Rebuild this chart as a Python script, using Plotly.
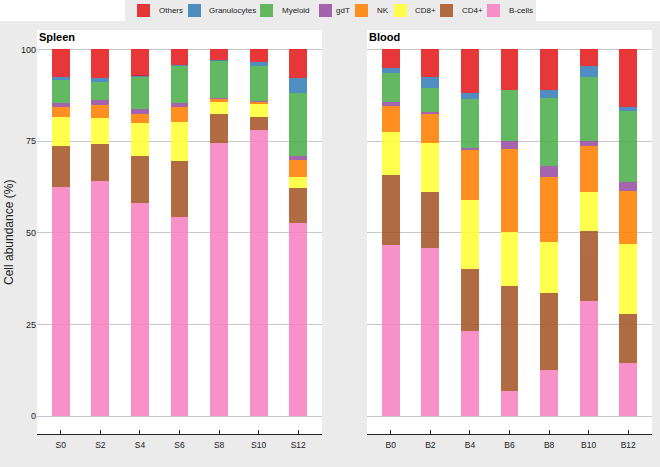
import plotly.graph_objects as go

W, H = 660, 467

# ---------------- data ----------------
spleen_samples = ["S0", "S2", "S4", "S6", "S8", "S10", "S12"]
blood_samples = ["B0", "B2", "B4", "B6", "B8", "B10", "B12"]

# stacking order bottom -> top
cell_types = ["B-cells", "CD4+", "CD8+", "NK", "gdT", "Myeloid", "Granulocytes", "Others"]
legend_order = ["Others", "Granulocytes", "Myeloid", "gdT", "NK", "CD8+", "CD4+", "B-cells"]

spleen_bcells = [62.5, 64.2, 58.1, 54.3, 74.5, 78.1, 52.6]
spleen_cd4 = [11.1, 9.9, 12.7, 15.2, 8.0, 3.4, 9.7]
spleen_cd8 = [8.0, 7.3, 9.1, 10.6, 3.2, 3.8, 3.0]
spleen_nk = [2.8, 3.4, 2.6, 4.2, 0.8, 0.4, 4.5]
spleen_gdt = [1.1, 1.4, 1.2, 1.0, 0.2, 0.2, 1.0]
spleen_myeloid = [6.1, 5.0, 8.8, 10.2, 10.3, 9.6, 17.3]
spleen_gran = [0.8, 1.0, 0.3, 0.2, 0.1, 1.0, 4.1]
spleen_others = [7.6, 7.8, 7.2, 4.3, 2.9, 3.5, 7.8]

blood_bcells = [46.6, 45.8, 23.3, 6.9, 12.6, 31.4, 14.4]
blood_cd4 = [19.1, 15.2, 16.7, 28.6, 20.9, 19.1, 13.4]
blood_cd8 = [11.9, 13.5, 18.9, 14.6, 14.0, 10.7, 19.1]
blood_nk = [6.9, 8.0, 13.6, 22.7, 17.7, 12.4, 14.6]
blood_gdt = [1.1, 0.5, 0.6, 2.3, 3.0, 1.4, 2.4]
blood_myeloid = [7.9, 6.5, 13.4, 13.9, 18.5, 17.5, 19.3]
blood_gran = [1.4, 3.0, 1.7, 0.0, 2.1, 3.0, 1.2]
blood_others = [5.1, 7.5, 11.8, 11.0, 11.2, 4.5, 15.6]

y_ticks = [0, 25, 50, 75, 100]

spleen = dict(zip(cell_types, [spleen_bcells, spleen_cd4, spleen_cd8, spleen_nk,
                               spleen_gdt, spleen_myeloid, spleen_gran, spleen_others]))
blood = dict(zip(cell_types, [blood_bcells, blood_cd4, blood_cd8, blood_nk,
                              blood_gdt, blood_myeloid, blood_gran, blood_others]))

# ---------------- style ----------------
colors = {
    "Others": "#e41a1c",
    "Granulocytes": "#377eb8",
    "Myeloid": "#4daf4a",
    "gdT": "#984ea3",
    "NK": "#ff7f00",
    "CD8+": "#ffff33",
    "CD4+": "#a65628",
    "B-cells": "#f781bf",
}
OPAC = 0.87
FONT = "Liberation Sans, Arial, Helvetica, sans-serif"
BG = "#ebebeb"

def px_x(p):
    return p / W

def px_y(p):
    return 1 - p / H

fig = go.Figure()
for ct in cell_types:
    fig.add_trace(go.Bar(x=spleen_samples, y=spleen[ct], name=ct, marker_color=colors[ct],
                         marker_line_width=0, opacity=OPAC, showlegend=False,
                         xaxis="x", yaxis="y"))
    fig.add_trace(go.Bar(x=blood_samples, y=blood[ct], name=ct, marker_color=colors[ct],
                         marker_line_width=0, opacity=OPAC, showlegend=False,
                         xaxis="x2", yaxis="y2"))

y_dom = [px_y(434), px_y(30)]
y_rng = [-4.9, 105.3]
xcommon = dict(type="category", range=[-0.6, 6.6], showgrid=False, zeroline=False,
               showline=True, linecolor="#222222", linewidth=1,
               ticks="inside", ticklen=4, tickcolor="#222222", tickwidth=1,
               ticklabelstandoff=3,
               tickfont=dict(size=8.5, color="#222222", family=FONT), fixedrange=True)
ycommon = dict(range=y_rng, domain=y_dom, tickvals=y_ticks, showgrid=True,
               gridcolor="#c8c8c8", gridwidth=1, zeroline=False, showline=False,
               ticks="", fixedrange=True)

fig.update_layout(
    width=W, height=H,
    margin=dict(l=0, r=0, t=0, b=0),
    paper_bgcolor=BG, plot_bgcolor="white",
    barmode="stack", bargap=0.553,
    font=dict(family=FONT, color="#222222"),
    showlegend=False,
    xaxis=dict(domain=[px_x(37), px_x(322)], anchor="y", **xcommon),
    xaxis2=dict(domain=[px_x(367), px_x(652)], anchor="y2", **xcommon),
    yaxis=dict(anchor="x", showticklabels=True,
               tickfont=dict(size=9, color="#222222", family=FONT), **ycommon),
    yaxis2=dict(anchor="x2", showticklabels=False, **ycommon),
)

shapes = [
    # white strip along the top, with a grey legend box on it
    dict(type="rect", xref="paper", yref="paper", x0=0, x1=1, y0=px_y(21), y1=1,
         fillcolor="white", line_width=0, layer="below"),
    dict(type="rect", xref="paper", yref="paper", x0=px_x(125), x1=px_x(536),
         y0=px_y(22), y1=1, fillcolor=BG, line_width=0, layer="below"),
]
annotations = []

# custom legend
legend_sq_x = [137, 188, 260, 319, 355, 394, 440, 487]
legend_tx_x = [157, 207, 280, 334, 375, 413, 460, 507]
for name, sx, tx in zip(legend_order, legend_sq_x, legend_tx_x):
    shapes.append(dict(type="rect", xref="paper", yref="paper",
                       x0=px_x(sx), x1=px_x(sx + 13), y0=px_y(17), y1=px_y(4),
                       fillcolor=colors[name], opacity=OPAC, line_width=0))
    annotations.append(dict(text=name, xref="paper", yref="paper", x=px_x(tx), y=px_y(11),
                            xanchor="left", yanchor="middle", showarrow=False,
                            font=dict(size=8, color="#222222", family=FONT)))

# panel titles
for label, x0 in [("Spleen", 37), ("Blood", 367)]:
    annotations.append(dict(text="<b>" + label + "</b>", xref="paper", yref="paper",
                            x=px_x(x0), y=px_y(37), xanchor="left", yanchor="middle",
                            showarrow=False, font=dict(size=11, color="black", family=FONT)))

# y axis title
annotations.append(dict(text="Cell abundance (%)", xref="paper", yref="paper",
                        x=px_x(9), y=px_y(233), xanchor="center", yanchor="middle",
                        textangle=-90, showarrow=False,
                        font=dict(size=12, color="#222222", family=FONT)))

fig.update_layout(shapes=shapes, annotations=annotations)
fig.write_html("out.html", config={"displayModeBar": False},
               post_script="document.body.style.margin='0';document.body.style.overflow='hidden';")
